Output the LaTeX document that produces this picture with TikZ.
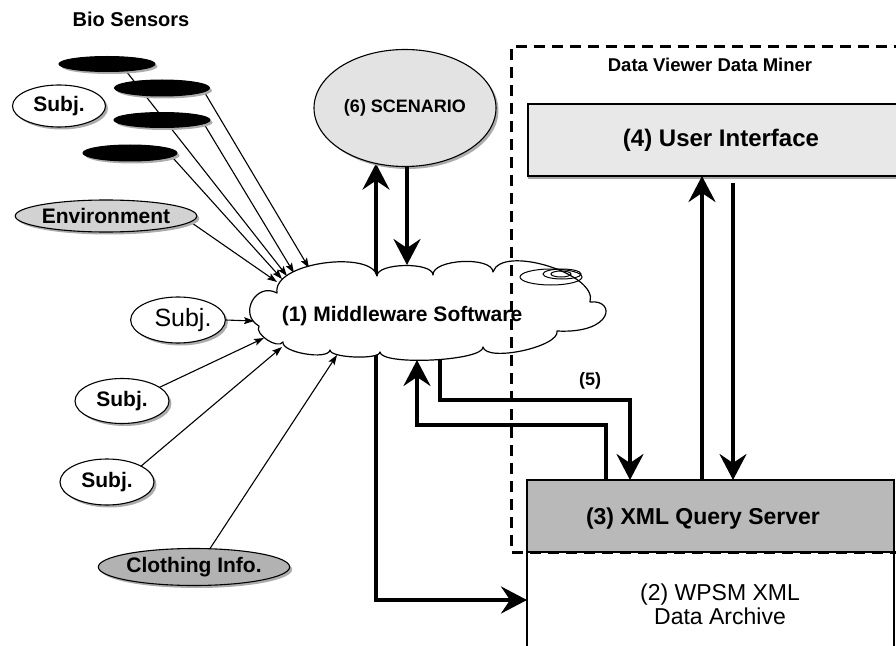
\documentclass[tikz,border=0pt]{standalone}
\usepackage{fontspec}
\setmainfont{Liberation Sans}
\usetikzlibrary{shapes.geometric,shadows,arrows.meta,backgrounds}
\begin{document}
\begin{tikzpicture}[x=1bp,y=-1bp,
  every node/.style={inner sep=0pt, outer sep=0pt},
  shd/.style={drop shadow={shadow xshift=2.5bp, shadow yshift=-2.5bp, fill=gray!65, opacity=1}},
  sensor/.style={ellipse, fill=black, draw=black, line width=1bp, shd},
  lnode/.style={ellipse, draw=black, line width=1.1bp, shd, font=\fontsize{21bp}{24bp}\selectfont\bfseries},
  big/.style={line width=3.5bp, -{Stealth[length=26bp,width=27bp,inset=9bp]}},
  bigboth/.style={line width=3.5bp, {Stealth[length=26bp,width=27bp,inset=9bp]}-{Stealth[length=26bp,width=27bp,inset=9bp]}},
  thinarr/.style={line width=1.1bp, -{Stealth[length=10bp,width=7bp,inset=2bp]}},
  lbl/.style={font=\fontsize{21bp}{24bp}\selectfont\bfseries},
  boxframe/.style={rectangle, draw=black, line width=1.1bp},
  dvframe/.style={draw=black, line width=3bp, dash pattern=on 11bp off 7bp},
  cloudline/.style={draw=black, fill=white, line width=1.2bp, line join=round},
]
\useasboundingbox (0,0) rectangle (896,646);
\clip (0,0) rectangle (896,646);

% titles
\node[font=\fontsize{20bp}{24bp}\selectfont\bfseries] (bio) at (131,19) {Bio Sensors};
\node[font=\fontsize{18.5bp}{22bp}\selectfont\bfseries] (dv) at (710,65) {Data Viewer Data Miner};

% bio sensors
\node[sensor, minimum width=96bp, minimum height=15bp] (s1) at (107,64) {};
\node[sensor, minimum width=95bp, minimum height=16bp] (s2) at (162,88) {};
\node[sensor, minimum width=96bp, minimum height=15bp] (s3) at (162,120) {};
\node[sensor, minimum width=94bp, minimum height=16bp] (s4) at (130,153) {};

% left nodes
\node[lnode, fill=white, minimum width=93bp, minimum height=42bp] (subjA) at (59,106) {Subj.};
\node[lnode, fill=gray!35, minimum width=178bp, minimum height=32bp] (env) at (106,216) {Environment};
\node[lnode, fill=white, minimum width=93bp, minimum height=46bp, font=\fontsize{25bp}{28bp}\selectfont] (subj1) at (178,320) {\hspace*{10bp}Subj.};
\node[lnode, fill=white, minimum width=94bp, minimum height=45bp] (subj2) at (122,401) {Subj.};
\node[lnode, fill=white, minimum width=94bp, minimum height=46bp] (subj3) at (107,482) {Subj.};
\node[lnode, fill=gray!60, minimum width=174bp, minimum height=37bp] (cloth) at (194,567) {Clothing Info.};

% scenario
\node[ellipse, draw=black, line width=1.1bp, fill=gray!22, shd, minimum width=182bp, minimum height=117bp,
      font=\fontsize{18bp}{21bp}\selectfont\bfseries] (scen) at (405,108) {(6) SCENARIO};

% middleware cloud
\coordinate (mw) at (428,311);
\draw[cloudline] (259,326)
  .. controls (238,314.5) and (256,281.5) .. (277,293)
  .. controls (272,262) and (372,250) .. (377,276)
  .. controls (376.8,262.7) and (432.8,261.7) .. (433,275)
  .. controls (432.2,259) and (492.2,256) .. (493,272)
  .. controls (501.7,244) and (598.7,274) .. (590,302)
  .. controls (616,299) and (614,334) .. (557,331)
  .. controls (560.4,346.6) and (486.4,362.6) .. (483,347)
  .. controls (483.7,361) and (380.7,366) .. (380,352)
  .. controls (379.7,360) and (329.7,358) .. (330,350)
  .. controls (328.2,360.5) and (281.2,352.5) .. (283,342)
  .. controls (277.8,349.8) and (253.8,333.8) .. (259,326) -- cycle;
\node[lbl] (mwt) at (402,316) {(1) Middleware Software};
\draw[line width=1bp] (551,277) ellipse [x radius=31, y radius=8];
\draw[line width=1bp] (562,274) ellipse [x radius=19, y radius=5];
\draw[line width=1bp] (561,274) ellipse [x radius=10, y radius=3];

% boxes
\node[boxframe, fill=gray!18, drop shadow={shadow xshift=0bp, shadow yshift=-3bp, fill=gray!70, opacity=1},
      minimum width=386bp, minimum height=72bp] (ui) at (721,140) {};
\node[font=\fontsize{24bp}{28bp}\selectfont\bfseries] (uit) at (721,140) {(4) User Interface};
\node[boxframe, fill=white, minimum width=367bp, minimum height=104bp] (wpsm) at (710.5,604) {};
\node[boxframe, fill=gray!55, minimum width=367bp, minimum height=72bp] (xml) at (710.5,516) {};
\node[font=\fontsize{23bp}{26bp}\selectfont\bfseries] (xmlt) at (703,519) {(3) XML Query Server};
\node[align=center, font=\fontsize{23bp}{24bp}\selectfont] (wpsmt) at (720,604) {(2) WPSM XML\\Data Archive};

% dashed frame
\node[rectangle, minimum width=394bp, minimum height=505bp] (dvbox) at (708,299.5) {};
\draw[dvframe] (dvbox.north east) -- (dvbox.north west) -- (dvbox.south west) -- (dvbox.south east);
\node[font=\fontsize{18bp}{22bp}\selectfont\bfseries] (l5) at (590,381) {(5)};

% coordinates
\coordinate (t1) at (277,282);
\coordinate (t2) at (282,279);
\coordinate (t3) at (287,276);
\coordinate (t4) at (294,273);
\coordinate (t5) at (309,268);
\coordinate (t6) at (254,321);
\coordinate (t7) at (264,338);
\coordinate (t8) at (282,347);
\coordinate (t9) at (337,355);
\coordinate (cA) at (376,600);
\coordinate (cB) at (440,400);
\coordinate (cB2) at (630,400);
\coordinate (cC) at (606,425);
\coordinate (tC) at (417,360);
\coordinate (tD) at (407,265);
\coordinate (xU) at (702,300);
\coordinate (xV) at (733,300);

% thin arrows
\draw[thinarr] (subj1.east) -- (t6);
\draw[thinarr] (subj2.20) -- (t7);
\draw[thinarr] (subj3.25) -- (t8);
\draw[thinarr] (cloth.49) -- (t9);

% thick arrows
\draw[big] (xml.north -| cC) -- (cC) -| (tC);
\draw[big] (scen.south -| tD) -- (tD);
\draw[big] (xml.north -| xU) -- (ui.south -| xU);
\draw[big, shorten <=7bp] (ui.south -| xV) -- (xml.north -| xV);

\begin{pgfonlayer}{background}
  \draw[thinarr] (s1.-20) -- (t3);
  \draw[thinarr] (s2.-5) -- (t5);
  \draw[thinarr] (s3.-5) -- (t4);
  \draw[thinarr] (s4.-5) -- (t2);
  \draw[thinarr] (env.-4) -- (t1);
  \draw[bigboth] (scen.243 -| cA) -- (cA) -- (wpsm.west |- cA);
  \draw[big] (mw -| cB) -- (cB) -| (xml.north -| cB2);
\end{pgfonlayer}
\end{tikzpicture}
\end{document}
